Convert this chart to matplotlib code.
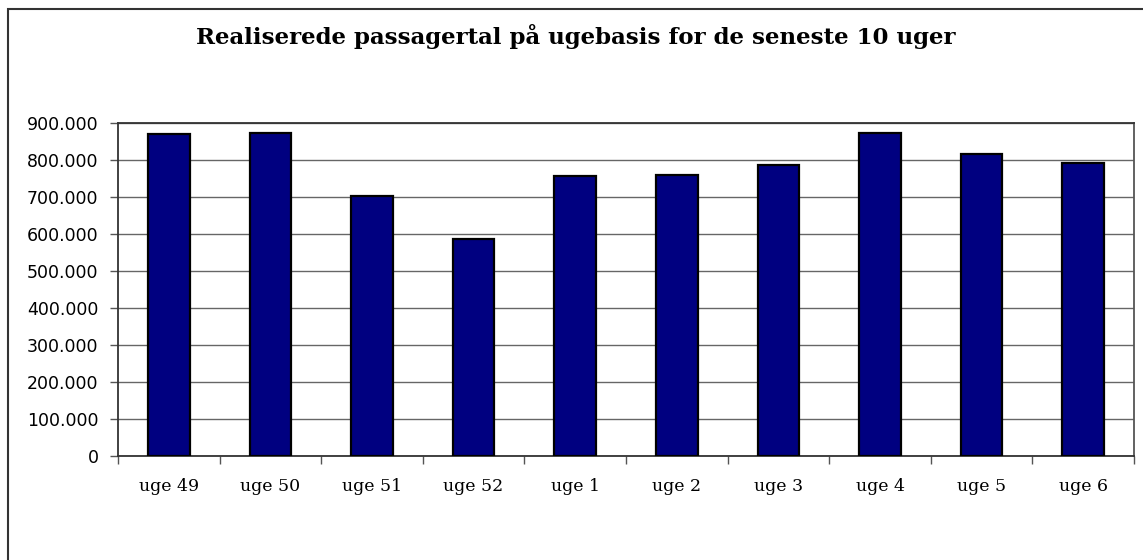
import matplotlib
matplotlib.use("Agg")
import matplotlib.pyplot as plt
from matplotlib.patches import Rectangle
from matplotlib.ticker import FuncFormatter, MultipleLocator
import numpy as np

uger = ["uge 49", "uge 50", "uge 51", "uge 52", "uge 1",
        "uge 2", "uge 3", "uge 4", "uge 5", "uge 6"]
passagerer = [869000, 873000, 703000, 586000, 756000,
              759000, 786000, 872000, 815000, 793000]

W, H = 1143, 560
fig = plt.figure(figsize=(W / 100, H / 100), dpi=100)
fig.patch.set_facecolor("white")

# ramme rundt om hele diagrammet (hoejre/nederste kant er skaaret af)
fig.patches.append(Rectangle((8 / W, -0.05), 1.2, 1 - 9 / H + 0.05,
                             transform=fig.transFigure, fill=False,
                             edgecolor="#333333", lw=1.5))

ax = fig.add_axes([118 / W, 1 - 456 / H, (1134 - 118) / W, (456 - 123) / H])
xs = np.arange(len(uger))
ax.bar(xs, passagerer, width=0.41, color="#000080", edgecolor="black",
       linewidth=1.6, zorder=3)

ax.set_xlim(-0.5, len(uger) - 0.5)
ax.set_ylim(0, 900000)
ax.yaxis.set_major_locator(MultipleLocator(100000))
ax.yaxis.set_major_formatter(FuncFormatter(lambda v, p: f"{v:,.0f}".replace(",", ".")))
ax.grid(axis="y", color="#666666", lw=1.0, zorder=0)

ax.set_xticks(xs)
ax.set_xticklabels(uger, family="DejaVu Serif", fontsize=12.5)
ax.set_xticks(np.arange(len(uger) + 1) - 0.5, minor=True)
ax.tick_params(axis="x", which="major", length=0, pad=16)
ax.tick_params(axis="x", which="minor", length=6, width=1, color="#555555")
ax.tick_params(axis="y", length=6, width=1, color="#555555", pad=8, labelsize=12.5)
for lbl in ax.get_yticklabels():
    lbl.set_family("DejaVu Sans")

for s in ["left", "bottom", "top", "right"]:
    ax.spines[s].set_color("#333333")
    ax.spines[s].set_linewidth(1.3)
ax.spines["right"].set_color("#555555")

fig.text(576 / W, 1 - 36 / H, "Realiserede passagertal på ugebasis for de seneste 10 uger",
         ha="center", va="center", family="DejaVu Serif", fontweight="bold", fontsize=16.5)

fig.savefig("out.png", dpi=100, facecolor="white")
